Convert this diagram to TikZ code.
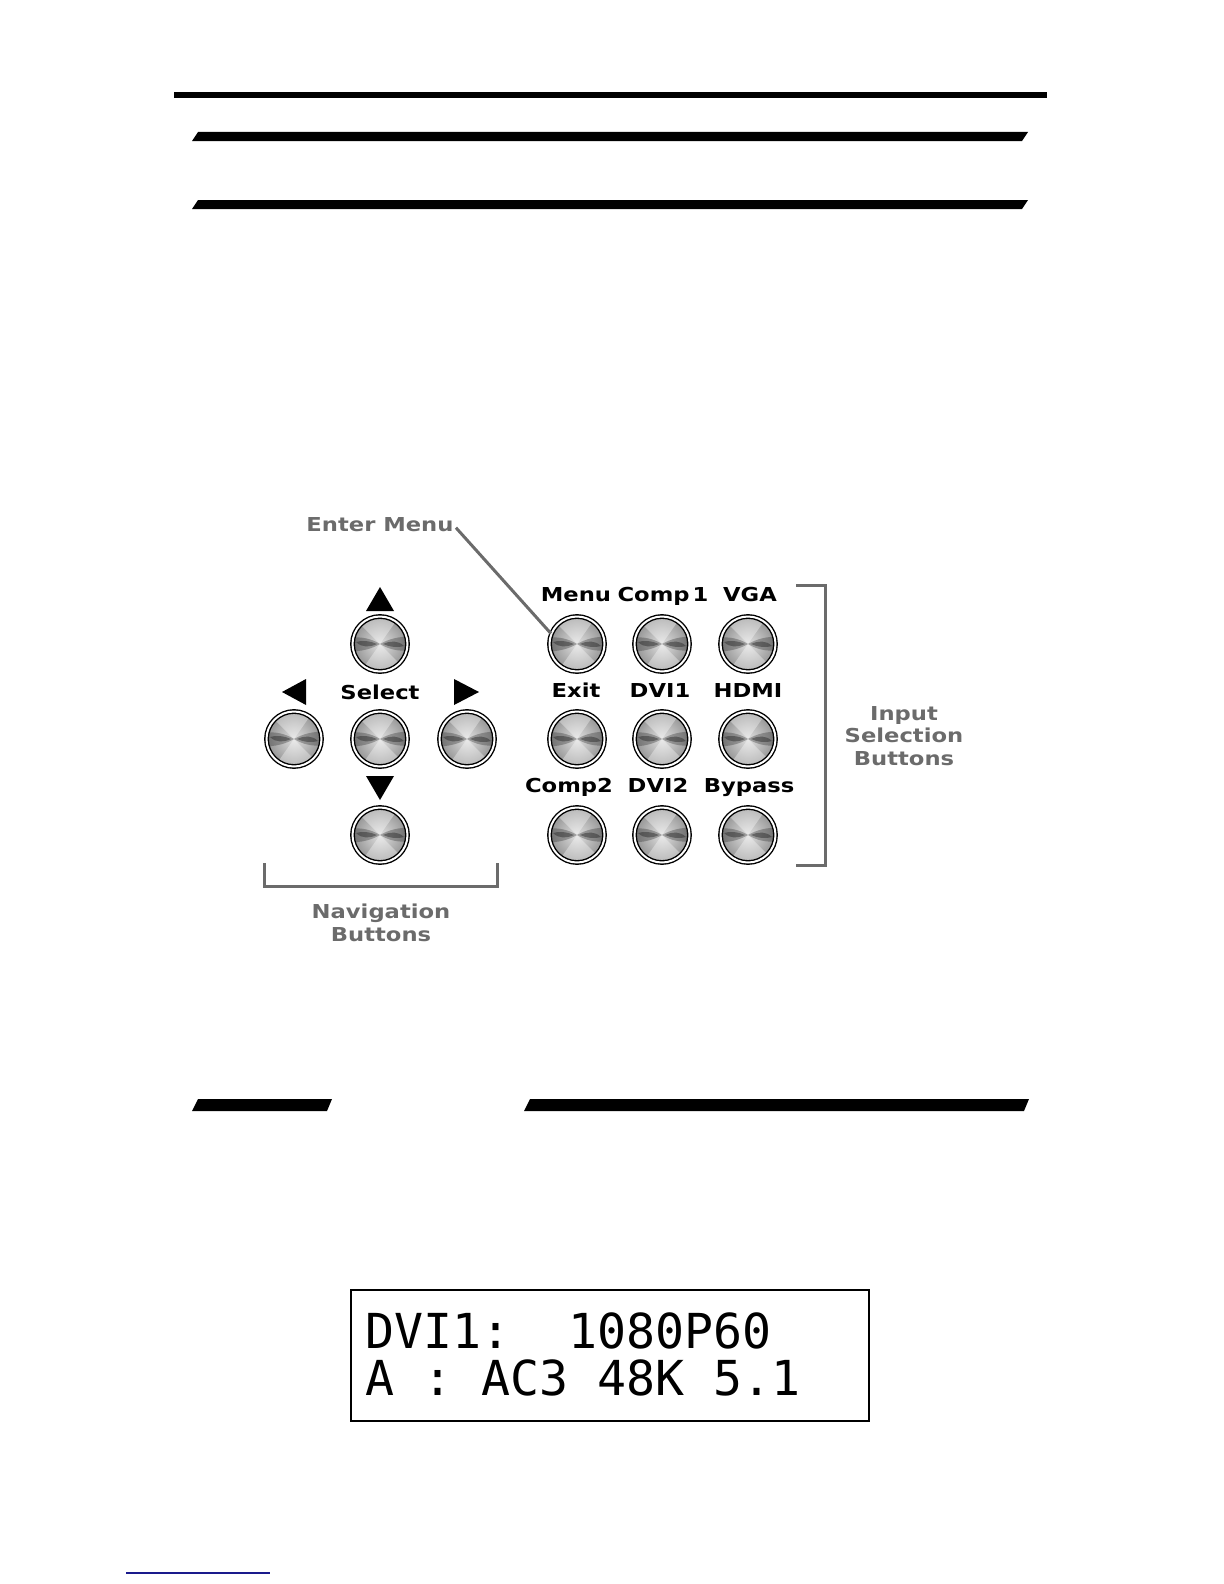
\documentclass[tikz,border=0pt]{standalone}
\usepackage{fontspec}
\newfontfamily\lblfont[FakeStretch=1.18]{DejaVu Sans}
\newfontfamily\lcdfont{DejaVu Sans Mono}
\definecolor{lblgray}{HTML}{6B6B6B}
\definecolor{linkblue}{HTML}{1A1A8C}
\tikzset{
  btn/.style={circle, minimum size=27.5pt, inner sep=0pt,
    draw=black, line width=0.7pt, double=white, double distance=1pt,
    inner color=black!12, outer color=black!42,
    path picture={
      \begin{scope}[shift={(path picture bounding box.center)}, rotate=15]
        \fill[white, opacity=0.35] (0,0) -- (55:16pt) arc[start angle=55, end angle=135, radius=16pt] -- cycle;
        \fill[white, opacity=0.35] (0,0) -- (235:16pt) arc[start angle=235, end angle=315, radius=16pt] -- cycle;
        \fill[black!80, opacity=0.35] (0,0) .. controls (-4pt,2.6pt) and (-10pt,4pt) .. (-15pt,3pt) -- (-15pt,-3.5pt) .. controls (-10pt,-4pt) and (-4pt,-2.4pt) .. (0,0) -- cycle;
        \fill[black!80, opacity=0.35] (0,0) .. controls (4pt,-2.6pt) and (10pt,-4pt) .. (15pt,-3pt) -- (15pt,3.5pt) .. controls (10pt,4pt) and (4pt,2.4pt) .. (0,0) -- cycle;
        \fill[black!85, opacity=0.45] (-1.5pt,0) .. controls (-5pt,1.6pt) and (-9pt,2pt) .. (-12pt,1pt) .. controls (-9pt,-2pt) and (-5pt,-1.6pt) .. (-1.5pt,0) -- cycle;
        \fill[black!85, opacity=0.45] (1.5pt,0) .. controls (5pt,-1.6pt) and (9pt,-2pt) .. (12pt,-1pt) .. controls (9pt,2pt) and (5pt,1.6pt) .. (1.5pt,0) -- cycle;
      \end{scope}
    }},
  lbl/.style={font=\lblfont\bfseries\fontsize{9.6}{11.25}\selectfont, inner sep=0pt, text=black, anchor=base},
  glbl/.style={lbl, text=lblgray},
  bracket/.style={draw=lblgray, line width=1.5pt},
  thickbar/.style={fill=black},
  lcdtxt/.style={font=\lcdfont\fontsize{24.1}{28}\selectfont, inner sep=0pt, anchor=base west}
}
\begin{document}
\begin{tikzpicture}[x=0.5pt, y=-0.5pt]
\useasboundingbox (0,0) rectangle (1224,1584);

% header bars
\fill[thickbar] (174,92) rectangle (1047,98);
\fill[thickbar] (198,132) -- (1028,132) -- (1022,141) -- (192,141) -- cycle;
\fill[thickbar] (198,200) -- (1028,200) -- (1022,209) -- (192,209) -- cycle;

% navigation buttons
\node[btn] (up) at (380,644) {};
\node[btn] (left) at (294,739) {};
\node[btn] (sel) at (380,739) {};
\node[btn] (right) at (467,739) {};
\node[btn] (down) at (380,835) {};

% arrows
\fill (380,587) -- (394,611) -- (366,611) -- cycle;
\fill (282,692) -- (306,679) -- (306,705) -- cycle;
\fill (479,692) -- (454,679) -- (454,705) -- cycle;
\fill (380,800) -- (366,776) -- (394,776) -- cycle;

\node[lbl] (selL) at (380,699) {Select};

% input grid buttons
\node[btn] (mb) at (577,644) {};
\node[btn] (c1b) at (662,644) {};
\node[btn] (vgab) at (748,644) {};
\node[btn] (exb) at (577,739) {};
\node[btn] (d1b) at (662,739) {};
\node[btn] (hdb) at (748,739) {};
\node[btn] (c2b) at (577,835) {};
\node[btn] (d2b) at (662,835) {};
\node[btn] (byb) at (748,835) {};

\node[lbl] (menuL) at (576,601) {Menu};
\node[lbl] (comp1L) at (663,601) {Comp\hspace{1.5pt}1};
\node[lbl] (vgaL) at (750,601) {VGA};
\node[lbl] (exitL) at (576,697) {Exit};
\node[lbl] (dvi1L) at (660,697) {DVI1};
\node[lbl] (hdmiL) at (748,697) {HDMI};
\node[lbl] (comp2L) at (569,792) {Comp2};
\node[lbl] (dvi2L) at (658,792) {DVI2};
\node[lbl] (bypL) at (749,792) {Bypass};

% enter menu callout
\node[glbl] (em) at (380,531) {Enter Menu};
\draw[draw=lblgray, line width=1.5pt] ([xshift=1pt,yshift=2pt]em.south east) -- (mb.158);

% input selection bracket
\coordinate (isT) at (796,585);
\coordinate (isB) at (796,865);
\draw[bracket] (isT) -- (825,585) -- (825,865) -- (isB);
\node[glbl, align=center, anchor=north] (isL) at (904,706) {Input\\Selection\\Buttons};

% navigation bracket
\coordinate (nvL) at (264,863);
\coordinate (nvR) at (497,863);
\draw[bracket] (nvL) -- (264,886) -- (497,886) -- (nvR);
\node[glbl, align=center, anchor=north] (nvT) at (381,904) {Navigation\\Buttons};

% second section bars
\fill[thickbar] (198,1099) -- (332,1099) -- (327,1111) -- (192,1111) -- cycle;
\fill[thickbar] (530,1099) -- (1029,1099) -- (1024,1111) -- (524,1111) -- cycle;

% LCD
\node[draw=black, line width=1pt, minimum width=259pt, minimum height=65.5pt, inner sep=0pt] (lcd) at (610,1355.5) {};
\node[lcdtxt] (lcd1) at (365,1348) {DVI1:~~1080P60};
\node[lcdtxt] (lcd2) at (365,1395) {A~:~AC3~48K~5.1};

% link underline
\coordinate (lnA) at (126,1573);
\coordinate (lnB) at (270,1573);
\draw[linkblue, line width=1pt] (lnA) -- (lnB);
\end{tikzpicture}
\end{document}
